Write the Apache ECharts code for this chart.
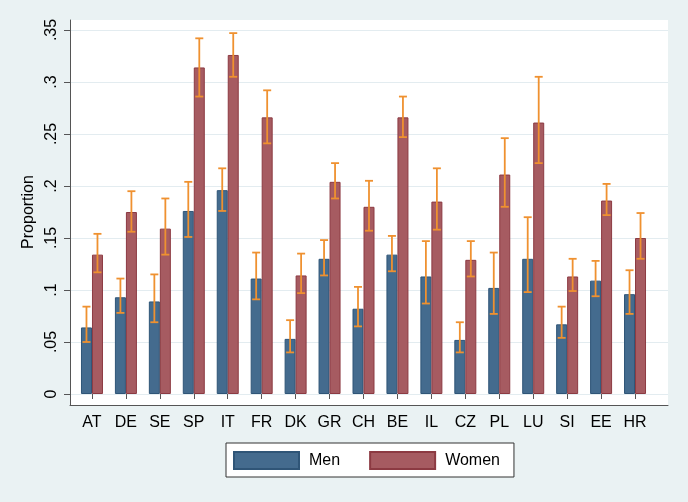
<!DOCTYPE html>
<html>
<head>
<meta charset="utf-8">
<script src="https://cdn.jsdelivr.net/npm/echarts@6/dist/echarts.min.js"></script>
<style>
html,body{margin:0;padding:0;background:#eaf2f3;}
#chart{width:688px;height:502px;}
</style>
</head>
<body>
<div id="chart"></div>
<script>
var categories = ['AT','DE','SE','SP','IT','FR','DK','GR','CH','BE','IL','CZ','PL','LU','SI','EE','HR'];
var menValues   = [0.064,0.093,0.089,0.176,0.196,0.111,0.053,0.130,0.082,0.134,0.113,0.052,0.102,0.130,0.067,0.109,0.096];
var menLow      = [0.050,0.078,0.069,0.151,0.176,0.091,0.040,0.114,0.065,0.118,0.087,0.040,0.077,0.098,0.054,0.094,0.077];
var menHigh     = [0.084,0.111,0.115,0.204,0.217,0.136,0.071,0.148,0.103,0.152,0.147,0.069,0.136,0.170,0.084,0.128,0.119];
var womenValues = [0.134,0.175,0.159,0.314,0.326,0.266,0.114,0.204,0.180,0.266,0.185,0.129,0.211,0.261,0.113,0.186,0.150];
var womenLow    = [0.117,0.156,0.134,0.286,0.305,0.241,0.097,0.188,0.157,0.247,0.158,0.113,0.180,0.222,0.099,0.172,0.130];
var womenHigh   = [0.154,0.195,0.188,0.342,0.347,0.292,0.135,0.222,0.205,0.286,0.217,0.147,0.246,0.305,0.130,0.202,0.174];
var yTickLabels = ['0','.05','.1','.15','.2','.25','.3','.35'];

var BAR_W = 11;
var menColor = '#446b8e', menBorder = '#2f5577';
var womenColor = '#a65b61', womenBorder = '#8c3a42';
var errColor = '#ef9130';
var font = '"Liberation Sans", Arial, sans-serif';

function errData(lo, hi){
  return lo.map(function(v,i){ return [i, v, hi[i]]; });
}
function errRender(offset){
  return function(params, api){
    var x = api.value(0);
    var lo = api.coord([x, api.value(1)]);
    var hi = api.coord([x, api.value(2)]);
    var cx = lo[0] + offset;
    var cap = 4;
    var st = {stroke: errColor, lineWidth: 1.8};
    return {type:'group', children:[
      {type:'line', shape:{x1:cx, y1:lo[1], x2:cx, y2:hi[1]}, style:st},
      {type:'line', shape:{x1:cx-cap, y1:lo[1], x2:cx+cap, y2:lo[1]}, style:st},
      {type:'line', shape:{x1:cx-cap, y1:hi[1], x2:cx+cap, y2:hi[1]}, style:st}
    ]};
  };
}

var chart = echarts.init(document.getElementById('chart'), null, {renderer:'canvas'});
chart.setOption({
  backgroundColor: '#eaf2f3',
  animation: false,
  textStyle: {fontFamily: font},
  legend: {
    data: ['Men','Women'],
    left: 226, top: 443,
    padding: [8, 14, 7, 7],
    itemWidth: 65, itemHeight: 17, itemGap: 29,
    icon: 'rect',
    backgroundColor: '#fff', borderColor: '#333', borderWidth: 1,
    textStyle: {fontSize: 16, color: '#000', fontFamily: font, padding: [0,0,0,5]}
  },
  grid: [
    {left: 70, right: 20, top: 20, bottom: 97, show: true, backgroundColor: '#fff', borderWidth: 0},
    {left: 70, right: 20, top: 30, bottom: 108},
    {left: 75, right: 36, top: 30, bottom: 108}
  ],
  xAxis: [
    {gridIndex: 0, type: 'value', min: 0, max: 1,
     axisLine: {show: true, lineStyle: {color: '#555', width: 1}},
     axisTick: {show: false}, axisLabel: {show: false}, splitLine: {show: false}},
    {gridIndex: 1, type: 'value', min: 0, max: 1, show: false},
    {gridIndex: 2, type: 'category', data: categories, offset: 11,
     axisLine: {show: false},
     axisTick: {show: true, alignWithLabel: true, length: 5, lineStyle: {color: '#555'}},
     axisLabel: {interval: 0, fontSize: 16, color: '#000', margin: 10, fontFamily: font}}
  ],
  yAxis: [
    {gridIndex: 0, type: 'value', min: 0, max: 1,
     axisLine: {show: true, lineStyle: {color: '#555', width: 1}},
     axisTick: {show: false}, axisLabel: {show: false}, splitLine: {show: false}},
    {gridIndex: 1, type: 'value', min: 0, max: 0.35, interval: 0.05,
     axisLine: {show: false},
     axisTick: {show: true, length: 6, lineStyle: {color: '#555'}},
     axisLabel: {rotate: 90, fontSize: 16, color: '#000', margin: 10, fontFamily: font,
       formatter: function(v){ return yTickLabels[Math.round(v/0.05)]; }},
     splitLine: {show: true, lineStyle: {color: '#e3ecf0', width: 1}},
     name: 'Proportion', nameLocation: 'middle', nameGap: 32, nameRotate: 90,
     nameTextStyle: {fontSize: 16, color: '#000', fontFamily: font}},
    {gridIndex: 2, type: 'value', min: 0, max: 0.35, show: false}
  ],
  series: [
    {name: 'Men', type: 'bar', xAxisIndex: 2, yAxisIndex: 2, data: menValues,
     barWidth: BAR_W, barGap: '0%',
     itemStyle: {color: menColor, borderColor: menBorder, borderWidth: 1}},
    {name: 'Women', type: 'bar', xAxisIndex: 2, yAxisIndex: 2, data: womenValues,
     barWidth: BAR_W, barGap: '0%',
     itemStyle: {color: womenColor, borderColor: womenBorder, borderWidth: 1}},
    {name: 'MenCI', type: 'custom', xAxisIndex: 2, yAxisIndex: 2,
     data: errData(menLow, menHigh), encode: {x: 0, y: [1, 2]},
     renderItem: errRender(-BAR_W/2), z: 5},
    {name: 'WomenCI', type: 'custom', xAxisIndex: 2, yAxisIndex: 2,
     data: errData(womenLow, womenHigh), encode: {x: 0, y: [1, 2]},
     renderItem: errRender(BAR_W/2), z: 5}
  ]
});
</script>
</body>
</html>
